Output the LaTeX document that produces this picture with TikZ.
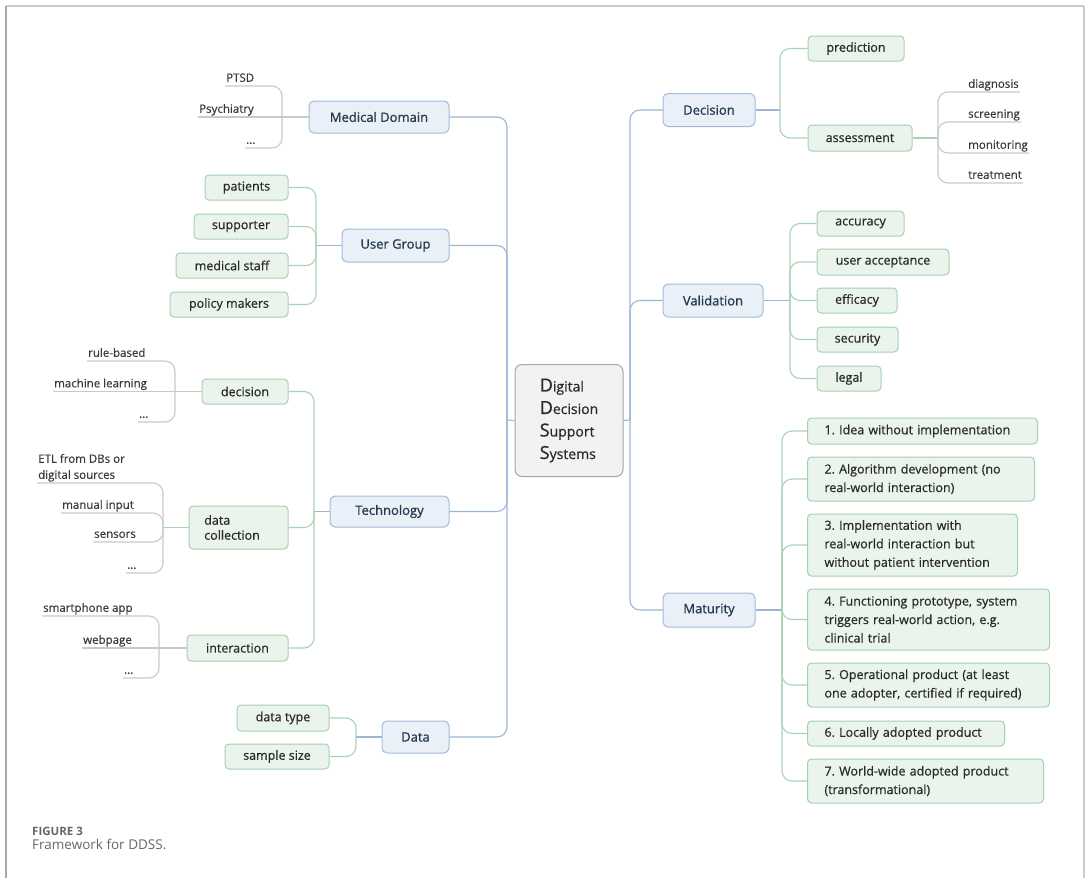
\documentclass[tikz,border=0pt]{standalone}
\usepackage{fontspec}
\setmainfont{Open Sans}
\newfontfamily\nodefont{Open Sans}[FakeBold=0.6]
\newfontfamily\titlefont{Open Sans}[FakeBold=1.0]
\frenchspacing
\definecolor{cBfill}{HTML}{EAF0F8}
\definecolor{cBdraw}{HTML}{A2BBD9}
\definecolor{cBtext}{HTML}{263B4E}
\definecolor{cGfill}{HTML}{EAF4EC}
\definecolor{cGdraw}{HTML}{A6D0B2}
\definecolor{cGtext}{HTML}{2A2A2A}
\definecolor{cCfill}{HTML}{F2F2F2}
\definecolor{cCdraw}{HTML}{A6A6A6}
\definecolor{cBline}{HTML}{9BB5D5}
\definecolor{cGline}{HTML}{A9D3B5}
\definecolor{cLline}{HTML}{C9C9C9}
\definecolor{cLtext}{HTML}{3A3A3A}
\definecolor{cFrameT}{HTML}{CACACA}
\definecolor{cFrameS}{HTML}{A8A8A8}
\definecolor{cCap}{HTML}{666666}
\newcommand{\ddssInit}[1]{{\titlefont\fontsize{18}{20}\selectfont #1}}
\tikzset{
  bnode/.style={draw=cBdraw, fill=cBfill, rounded corners=5pt, line width=1pt, text=cBtext, font=\titlefont\fontsize{13}{15}\selectfont, inner sep=0pt},
  gnode/.style={draw=cGdraw, fill=cGfill, rounded corners=4pt, line width=1pt, text=cGtext, font=\nodefont\fontsize{12.5}{15}\selectfont, inner sep=0pt},
  mnode/.style={gnode, anchor=west, align=left, font=\nodefont\fontsize{12.5}{18.5}\selectfont, inner xsep=17pt},
  cnode/.style={draw=cCdraw, fill=cCfill, rounded corners=7pt, line width=1pt, text=cGtext, font=\nodefont\fontsize{14}{22.5}\selectfont, inner sep=0pt, align=left},
  leaf/.style={text=cLtext, font=\nodefont\fontsize{11.5}{16}\selectfont, inner xsep=1pt, inner ysep=1pt, text depth=3pt, anchor=south west},
  bcon/.style={draw=cBline, line width=1.1pt, rounded corners=10pt},
  gcon/.style={draw=cGline, line width=1.1pt, rounded corners=10pt},
  lcon/.style={draw=cLline, line width=1.1pt, rounded corners=10pt},
}
\begin{document}
\begin{tikzpicture}[x=1pt, y=-1pt]
\useasboundingbox (0,0) rectangle (1088,878);
% frame
\draw[cFrameT, line width=1.5pt] (6,6) -- (1084,6);
\draw[cFrameS, line width=1.3pt] (6,5.5) -- (6,878);
\draw[cFrameT, line width=1.3pt] (1084,5.5) -- (1084,878);

% centre
\node[cnode, minimum width=108, minimum height=112] (c) at (569,420.5)
  {\ddssInit{D}igital\\\ddssInit{D}ecision\\\ddssInit{S}upport\\\ddssInit{S}ystems};

% main branches
\node[bnode, minimum width=140, minimum height=32] (md) at (379,117) {Medical Domain};
\node[bnode, minimum width=107, minimum height=33] (ug) at (395.5,245.5) {User Group};
\node[bnode, minimum width=119, minimum height=31] (tech) at (389.5,511.5) {Technology};
\node[bnode, minimum width=67, minimum height=32] (data) at (415.5,737) {Data};
\node[bnode, minimum width=92, minimum height=33] (dec) at (709,110) {Decision};
\node[bnode, minimum width=100, minimum height=33] (val) at (713,300.5) {Validation};
\node[bnode, minimum width=92, minimum height=34] (mat) at (709,610) {Maturity};

\coordinate (lT) at (507,420);
\coordinate (rT) at (630,420);
\draw[bcon] (c.west) -- (lT);
\draw[bcon] (c.east) -- (rT);
\foreach \n in {md,ug,tech,data} \draw[bcon] (lT) |- (\n.east);
\foreach \n in {dec,val,mat} \draw[bcon] (rT) |- (\n.west);

% Decision
\node[gnode, minimum width=96, minimum height=25] (pred) at (856,48.5) {prediction};
\node[gnode, minimum width=104, minimum height=26] (assess) at (860,138) {assessment};
\coordinate (decT) at (780,110);
\draw[bcon] (dec.east) -- (decT);
\draw[gcon] (decT) |- (pred.west);
\draw[gcon] (decT) |- (assess.west);

\node[leaf] (diag) at (967,92) {diagnosis};
\node[leaf] (scr) at (967,122) {screening};
\node[leaf] (mon) at (967,153) {monitoring};
\node[leaf] (treat) at (967,183) {treatment};
\coordinate (assT) at (938,138);
\draw[gcon] (assess.east) -- (assT);
\foreach \n in {diag,scr,mon,treat} \draw[lcon] (assT) |- (\n.south east);

% Validation
\node[gnode, minimum width=87, minimum height=25] (acc) at (860.5,223.5) {accuracy};
\node[gnode, minimum width=132, minimum height=26] (ua) at (883,262) {user acceptance};
\node[gnode, minimum width=80, minimum height=25] (eff) at (857,300.5) {efficacy};
\node[gnode, minimum width=81, minimum height=25] (sec) at (857.5,339.5) {security};
\node[gnode, minimum width=64, minimum height=25] (legal) at (849,378.5) {legal};
\coordinate (valT) at (790,300.5);
\draw[bcon] (val.east) -- (valT);
\foreach \n in {acc,ua,eff,sec,legal} \draw[gcon] (valT) |- (\n.west);

% Maturity
\node[mnode, minimum width=230, minimum height=26, text width=196] (m1) at (807,431) {1. Idea without implementation};
\node[mnode, minimum width=227, minimum height=44, text width=193] (m2) at (807,479) {2. Algorithm development (no\\real-world interaction)};
\node[mnode, minimum width=210, minimum height=62, text width=176] (m3) at (807,545) {3. Implementation with\\real-world interaction but\\without patient intervention};
\node[mnode, minimum width=242, minimum height=61, text width=208] (m4) at (807,619.5) {4. Functioning prototype, system\\triggers real-world action, e.g.\\clinical trial};
\node[mnode, minimum width=242, minimum height=44, text width=208] (m5) at (807,685) {5. Operational product (at least\\one adopter, certified if required)};
\node[mnode, minimum width=197, minimum height=25, text width=163] (m6) at (807,733.5) {6. Locally adopted product};
\node[mnode, minimum width=236, minimum height=44, text width=202] (m7) at (807,781) {7. World-wide adopted product\\(transformational)};
\coordinate (matT) at (782,610);
\draw[bcon] (mat.east) -- (matT);
\foreach \n in {m1,m2,m3,m4,m5,m6,m7} \draw[gcon] (matT) |- (\n.west);

% Medical Domain leaves
\node[leaf] (ptsd) at (225,86) {PTSD};
\node[leaf] (psy) at (198,117) {Psychiatry};
\node[leaf] (mddots) at (245,148) {...};
\coordinate (mdT) at (282,117);
\draw[lcon] (md.west) -- (psy.south west);
\draw[lcon] (mdT) |- (ptsd.south west);
\draw[lcon] (mdT) |- (mddots.south west);

% User Group
\node[gnode, minimum width=83, minimum height=25] (pat) at (246.5,187.5) {patients};
\node[gnode, minimum width=94, minimum height=25] (sup) at (241,226.5) {supporter};
\node[gnode, minimum width=112, minimum height=25] (ms) at (232,265.5) {medical staff};
\node[gnode, minimum width=118, minimum height=25] (pm) at (229,304.5) {policy makers};
\coordinate (ugT) at (316,245.5);
\draw[bcon] (ug.west) -- (ugT);
\foreach \n in {pat,sup,ms,pm} \draw[gcon] (ugT) |- (\n.east);

% Technology
\node[gnode, minimum width=86, minimum height=25] (tdec) at (245,391.5) {decision};
\node[gnode, minimum width=99, minimum height=43, align=left] (dc) at (238.5,527.5) {data\hspace*{3.4em}\\collection};
\node[gnode, minimum width=101, minimum height=26] (inter) at (237.5,648) {interaction};
\coordinate (techT) at (314,511.5);
\draw[bcon] (tech.west) -- (techT);
\foreach \n in {tdec,dc,inter} \draw[gcon] (techT) |- (\n.east);

\node[leaf] (rb) at (87,361) {rule-based};
\node[leaf] (ml) at (53,391.5) {machine learning};
\node[leaf] (tddots) at (138,422) {...};
\coordinate (tdecT) at (175,391.5);
\draw[lcon] (tdec.west) -- (ml.south west);
\draw[lcon] (tdecT) |- (rb.south west);
\draw[lcon] (tdecT) |- (tddots.south west);

\node[leaf, align=left] (etl) at (37,483) {ETL from DBs or\\digital sources};
\node[leaf] (mi) at (61,513) {manual input};
\node[leaf] (sens) at (93,542) {sensors};
\node[leaf] (dcdots) at (126,573) {...};
\coordinate (dcT) at (163,527.5);
\draw[gcon] (dc.west) -- (dcT);
\foreach \n in {etl,mi,sens,dcdots} \draw[lcon] (dcT) |- (\n.south west);

\node[leaf] (sp) at (42,616) {smartphone app};
\node[leaf] (wp) at (82,648) {webpage};
\node[leaf] (indots) at (123,678) {...};
\coordinate (intT) at (159,648);
\draw[lcon] (inter.west) -- (wp.south west);
\draw[lcon] (intT) |- (sp.south west);
\draw[lcon] (intT) |- (indots.south west);

% Data
\node[gnode, minimum width=92, minimum height=26] (dtype) at (283,718) {data type};
\node[gnode, minimum width=104, minimum height=25] (ssize) at (277,756.5) {sample size};
\coordinate (dataT) at (356,737);
\draw[bcon] (data.west) -- (dataT);
\draw[gcon] (dataT) |- (dtype.east);
\draw[gcon] (dataT) |- (ssize.east);

% caption
\node[anchor=base west, inner sep=0pt, text=cCap, font=\bfseries\fontsize{11.5}{12}\selectfont] (figlab) at (32,835) {FIGURE 3};
\node[anchor=base west, inner sep=0pt, text=cCap, font=\fontsize{13.5}{16}\selectfont] (figcap) at (32,849) {Framework for DDSS.};
\end{tikzpicture}
\end{document}
